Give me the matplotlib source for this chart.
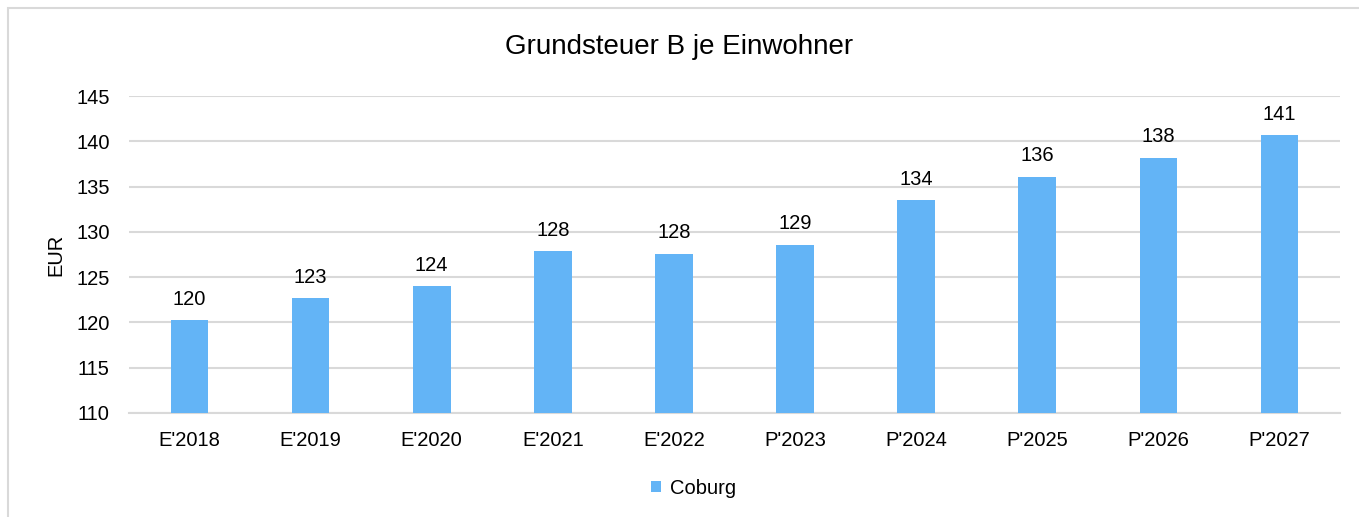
import matplotlib.pyplot as plt
import matplotlib as mpl
from matplotlib.patches import Rectangle
import numpy as np

years = ["E'2018", "E'2019", "E'2020", "E'2021", "E'2022",
         "P'2023", "P'2024", "P'2025", "P'2026", "P'2027"]
coburg = [120.3, 122.7, 124.0, 127.9, 127.6, 128.6, 133.5, 136.1, 138.2, 140.7]

mpl.rcParams["font.family"] = ["Liberation Sans", "DejaVu Sans"]

bar_color = "#63B4F6"
grid_color = "#D9D9D9"
fs = 14.5

fig = plt.figure(figsize=(13.59, 5.17), dpi=100)
ax = fig.add_axes([129 / 1359, 1 - 413 / 517, (1340 - 129) / 1359, (413 - 96) / 517])

x = np.arange(len(years))
bars = ax.bar(x, coburg, width=0.31, color=bar_color, label="Coburg", zorder=3)

# value labels above bars
for xi, v in zip(x, coburg):
    ax.annotate(f"{v:.0f}", (xi, v), xytext=(0, 8), textcoords="offset points",
                ha="center", va="bottom", fontsize=fs, color="#000000")

ax.set_ylim(110, 145)
ax.set_xlim(-0.5, len(years) - 0.5)
ax.set_yticks(np.arange(110, 146, 5))
ax.set_xticks(x)
ax.set_xticklabels(years)
ax.tick_params(axis="both", length=0, labelsize=fs, colors="#000000")
ax.tick_params(axis="x", pad=13)
ax.tick_params(axis="y", pad=14)
ax.yaxis.grid(True, color=grid_color, linewidth=1.5, zorder=0)
for s in ["top", "right", "left"]:
    ax.spines[s].set_visible(False)
ax.spines["bottom"].set_color(grid_color)
ax.spines["bottom"].set_linewidth(1.5)

ax.set_ylabel("EUR", fontsize=fs, labelpad=8)

fig.text(0.5, 1 - 47 / 517, "Grundsteuer B je Einwohner", ha="center", va="center", fontsize=20)

legend = fig.legend(loc="center", bbox_to_anchor=(0.5 + 14 / 1359, 1 - 488 / 517), frameon=False,
                    fontsize=fs, handlelength=0.5, handleheight=0.5, handletextpad=0.45)

# outer chart border
fig.patches.append(Rectangle((8 / 1359, -0.1), 1.2, 1 - 8 / 517 + 0.1, transform=fig.transFigure,
                             fill=False, edgecolor="#D9D9D9", linewidth=1.5))

fig.savefig("out.png", dpi=100)
